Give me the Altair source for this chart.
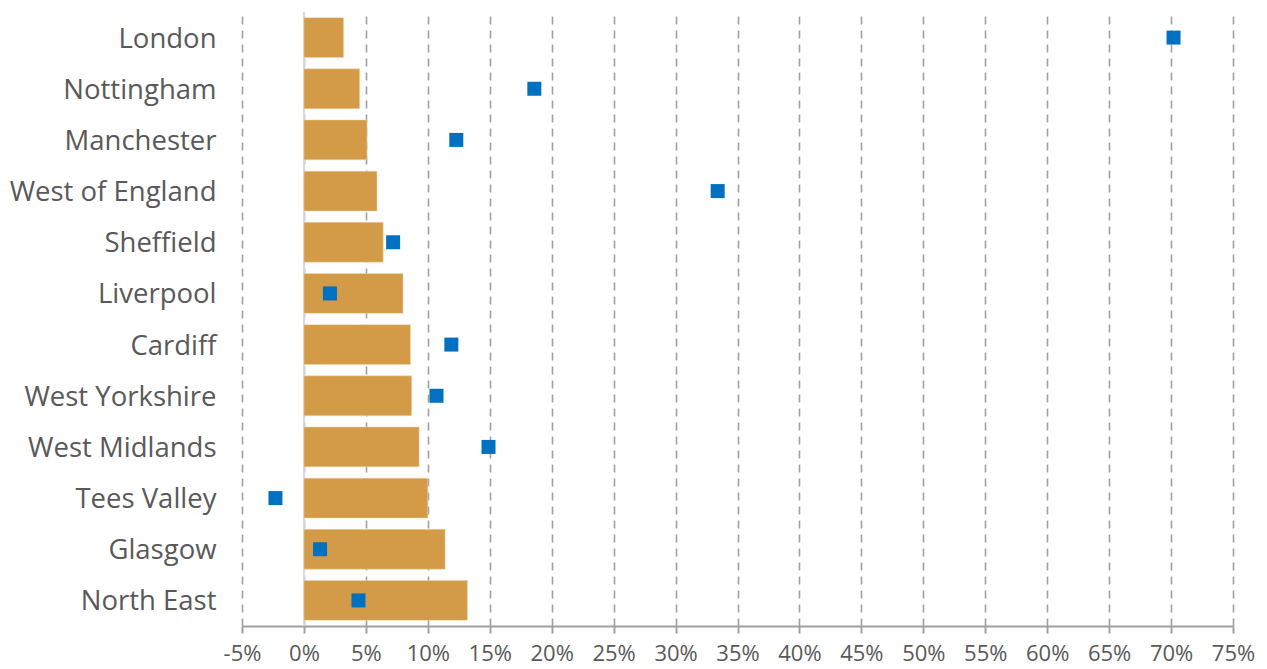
import altair as alt
import pandas as pd

regions = ["London", "Nottingham", "Manchester", "West of England", "Sheffield",
           "Liverpool", "Cardiff", "West Yorkshire", "West Midlands", "Tees Valley",
           "Glasgow", "North East"]
bar_values = [3.2, 4.5, 5.1, 5.9, 6.4, 8.0, 8.6, 8.7, 9.3, 10.0, 11.4, 13.2]
square_values = [70.2, 18.6, 12.3, 33.4, 7.2, 2.1, 11.9, 10.7, 14.9, -2.3, 1.3, 4.4]
x_ticks = list(range(-5, 80, 5))

df = pd.DataFrame({"region": regions, "bar": bar_values, "square": square_values})

FONT = "Open Sans"
xscale = alt.Scale(domain=[-5, 75], nice=False, zero=False)
yenc = alt.Y("region:N", sort=regions,
             scale=alt.Scale(paddingInner=0.22, paddingOuter=0.11),
             axis=alt.Axis(title=None, ticks=False, domain=False, grid=False,
                           labelFontSize=27.5, labelColor="#595959", labelFont=FONT,
                           labelPadding=26, labelLimit=400, labelOffset=2))

bars = alt.Chart(df).mark_bar(color="#D39B48", stroke="#F0D9B5", strokeWidth=0.5).encode(
    x=alt.X("bar:Q", scale=xscale,
            axis=alt.Axis(title=None, values=x_ticks, labelExpr="datum.value + '%'",
                          labelOverlap=False, labelFlush=False,
                          grid=True, gridDash=[8, 6], gridColor="#A0A0A0", gridWidth=1.6,
                          domainColor="#A0A0A0", domainWidth=2, tickColor="#A0A0A0",
                          tickWidth=2, tickSize=7, labelFontSize=22, labelColor="#595959",
                          labelFont=FONT, labelPadding=10)),
    y=yenc,
)

zero = alt.Chart(pd.DataFrame({"z": [0]})).mark_rule(color="#D9D9D9", strokeWidth=2).encode(
    x=alt.X("z:Q", scale=xscale)
)

squares = alt.Chart(df).mark_square(color="#0070C0", size=196, opacity=1).encode(
    x=alt.X("square:Q", scale=xscale),
    y=alt.Y("region:N", sort=regions),
)

chart = alt.layer(zero, bars, squares).properties(
    width=991, height=614,
    autosize=alt.AutoSizeParams(type="none"),
    padding={"left": 242, "top": 12, "right": 34, "bottom": 43},
).configure_view(stroke=None).configure_axis(labelFont=FONT)

chart.save("out.html", embed_options={"renderer": "svg", "actions": False})
